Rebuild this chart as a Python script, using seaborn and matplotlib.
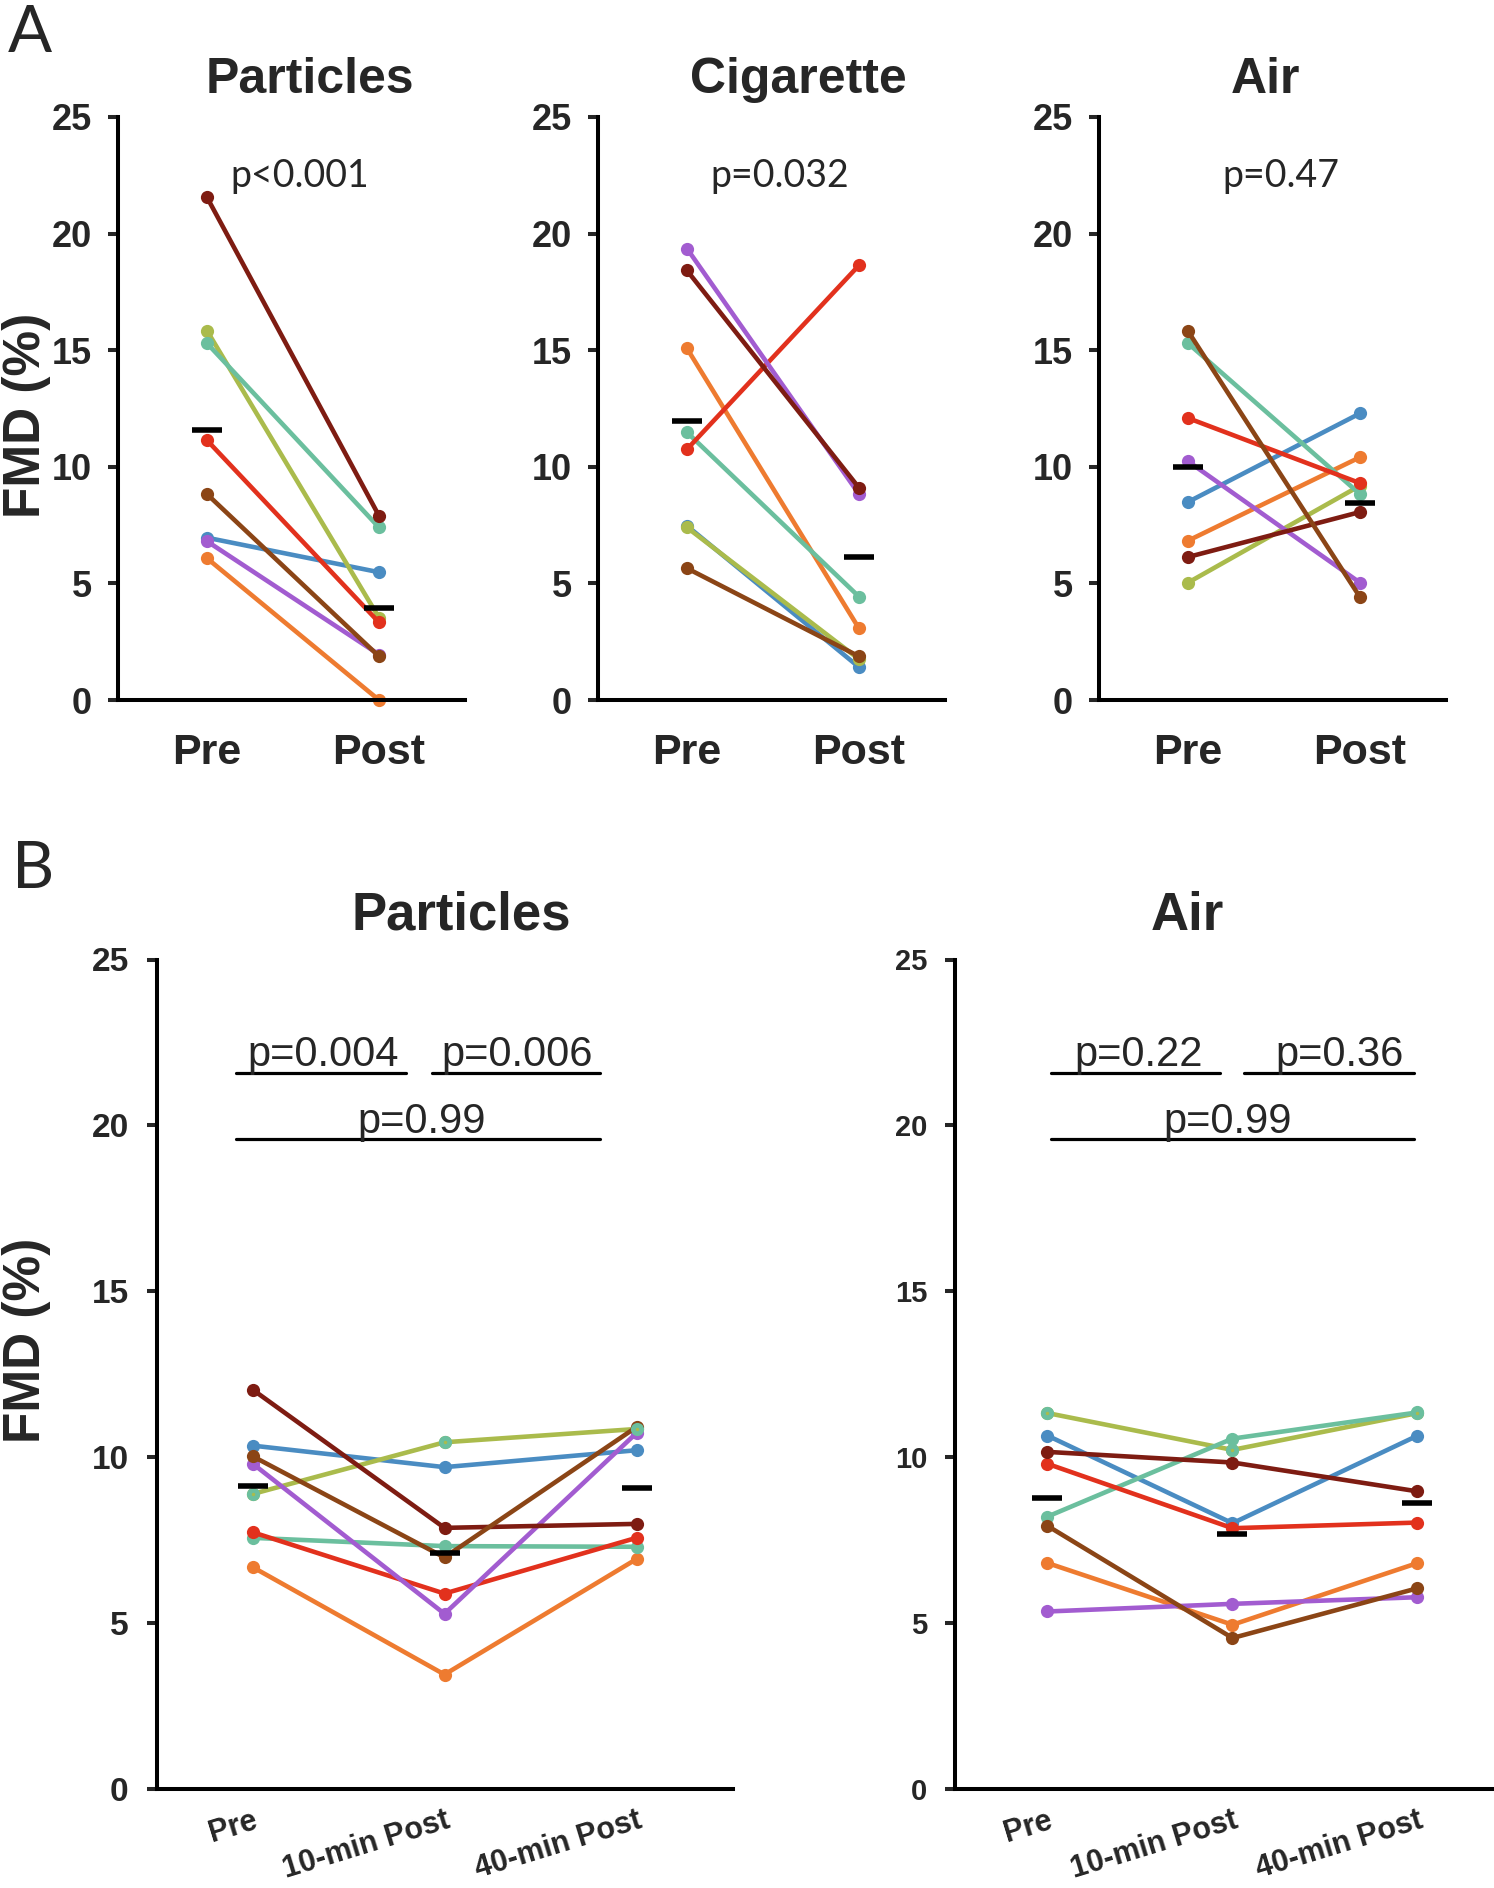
import numpy as np
import pandas as pd
import matplotlib
matplotlib.use("Agg")
import matplotlib.pyplot as plt
import seaborn as sns

# eight subjects, in drawing order, with their colours
subjects = ["s1", "s2", "s3", "s4", "s5", "s6", "s7", "s8"]
colors = ["#4A8CC2", "#EE7B30", "#AABB4C", "#6BBF9E", "#E2311D", "#A25CD0", "#7E1C12", "#8B4516"]
palette = dict(zip(subjects, colors))

# panel A: FMD (%) before / after exposure
a_times = ["Pre", "Post"]
a_titles = ["Particles", "Cigarette", "Air"]
a_pvals = ["p<0.001", "p=0.032", "p=0.47"]
part_pre = [6.96, 6.08, 15.84, 15.30, 11.14, 6.81, 21.56, 8.83]
part_post = [5.48, 0.00, 3.53, 7.40, 3.33, 1.95, 7.90, 1.87]
cig_pre = [7.47, 15.08, 7.40, 11.48, 10.75, 19.36, 18.42, 5.65]
cig_post = [1.41, 3.07, 1.75, 4.43, 18.64, 8.83, 9.10, 1.87]
air_pre = [8.49, 6.83, 5.03, 15.30, 12.09, 10.24, 6.13, 15.82]
air_post = [12.29, 10.41, 9.19, 8.83, 9.30, 5.03, 8.06, 4.41]

# panel B: FMD (%) pre, 10 and 40 min after exposure
b_times = ["Pre", "10-min Post", "40-min Post"]
b_titles = ["Particles", "Air"]
bpart_pre = [10.35, 6.69, 8.89, 7.57, 7.74, 9.81, 12.04, 10.03]
bpart_10 = [9.70, 3.45, 10.45, 7.32, 5.89, 5.28, 7.87, 6.98]
bpart_40 = [10.21, 6.93, 10.85, 7.30, 7.57, 10.73, 7.99, 10.91]
bair_pre = [10.65, 6.81, 11.33, 8.21, 9.80, 5.35, 10.16, 7.93]
bair_10 = [8.01, 4.95, 10.22, 10.56, 7.86, 5.58, 9.84, 4.55]
bair_40 = [10.65, 6.81, 11.33, 11.35, 8.03, 5.78, 8.97, 6.05]
b_pvals = [["p=0.004", "p=0.006", "p=0.99"], ["p=0.22", "p=0.36", "p=0.99"]]

yticks = [0, 5, 10, 15, 20, 25]

BOLD = ["Liberation Sans", "DejaVu Sans"]
CAL = ["Lato", "DejaVu Sans"]


def to_long(columns):
    rows = []
    for t, vals in enumerate(columns):
        for s, v in zip(subjects, vals):
            rows.append({"subject": s, "time": t, "fmd": v})
    return pd.DataFrame(rows)


def draw(ax, columns, xlim):
    df = to_long(columns)
    sns.lineplot(data=df, x="time", y="fmd", hue="subject", hue_order=subjects,
                 palette=palette, marker="o", markersize=9.5, markeredgewidth=0,
                 linewidth=3.3, estimator=None, sort=False, legend=False,
                 clip_on=False, ax=ax)
    for ln in ax.lines:
        ln.set_linewidth(3.3)
        ln.set_markersize(9.5)
    means = df.groupby("time", as_index=False)["fmd"].mean()
    sns.scatterplot(data=means, x="time", y="fmd", marker="_", s=480, color="black",
                    linewidth=4.0, zorder=6, clip_on=False, legend=False, ax=ax)
    ax.set_xlim(*xlim)
    ax.set_ylim(0, 25)
    ax.set_xlabel("")
    ax.set_ylabel("")
    sns.despine(ax=ax)
    for sp in ["left", "bottom"]:
        ax.spines[sp].set_linewidth(2.9)
        ax.spines[sp].set_color("black")
    return df


sns.set_style("white")
plt.rcParams["font.family"] = BOLD

fig = plt.figure(figsize=(14.94, 18.88), dpi=100)
W, H = 1494, 1888

# ---- panel A ----
a_data = [(part_pre, part_post), (cig_pre, cig_post), (air_pre, air_post)]
a_left = [118, 598, 1099]
a_title_x = [0.60, 0.645, 0.45]
for i, cols in enumerate(a_data):
    ax = fig.add_axes([a_left[i] / W, 1 - 700 / H, 347 / W, 583 / H])
    draw(ax, cols, (-0.517, 1.5))
    ax.set_yticks(yticks)
    ax.set_yticklabels([str(v) for v in yticks], fontsize=26, fontweight="bold", family=BOLD)
    ax.set_xticks(range(len(a_times)))
    ax.set_xticklabels(a_times, fontsize=31, fontweight="bold", family=BOLD)
    ax.tick_params(axis="y", direction="out", length=7, width=2.9, pad=12, left=True)
    ax.tick_params(axis="x", length=0, pad=24)
    ax.text(a_title_x[i], 26.03, a_titles[i], ha="center", va="baseline",
            fontsize=36, fontweight="bold", family=BOLD)
    ax.text(0.54, 22.0, a_pvals[i], ha="center", va="baseline", fontsize=27, family=CAL)

fig.text(8 / W, 1 - 52 / H, "A", fontsize=47, family=CAL, va="baseline")
fig.text(27 / W, 1 - 415 / H, "FMD (%)", rotation=90, ha="center", va="center",
         fontsize=37, fontweight="bold", family=BOLD)

# ---- panel B ----
b_data = [(bpart_pre, bpart_10, bpart_40), (bair_pre, bair_10, bair_40)]
b_rects = [(156.5, 576), (955, 555)]
b_title_x = [1.086, 0.754]
b_tick_size = [24, 21]
b_bars = [[(-0.085, 0.80, 21.58), (0.935, 1.81, 21.58), (-0.085, 1.81, 19.59)],
          [(0.02, 0.93, 21.58), (1.06, 1.98, 21.58), (0.02, 1.98, 19.59)]]
b_text_pos = [[(0.366, 21.80), (1.38, 21.80), (0.88, 19.77)],
              [(0.49, 21.80), (1.58, 21.80), (0.975, 19.77)]]
for i, cols in enumerate(b_data):
    left, width = b_rects[i]
    ax = fig.add_axes([left / W, 1 - 1789 / H, width / W, 829.5 / H])
    df = draw(ax, cols, (-0.5, 2.5))
    # markers of the third subject are drawn in the teal of subject four
    olive = df[df["subject"] == "s3"]
    sns.scatterplot(data=olive, x="time", y="fmd", color=colors[3], s=90, linewidth=0,
                    zorder=4, legend=False, ax=ax)
    sns.scatterplot(data=olive, x="time", y="fmd", color=colors[2], s=6, linewidth=0,
                    zorder=4, legend=False, ax=ax)
    ax.set_xlabel("")
    ax.set_ylabel("")
    ax.set_yticks(yticks)
    ax.set_yticklabels([str(v) for v in yticks], fontsize=b_tick_size[i], fontweight="bold", family=BOLD)
    ax.set_xticks(range(len(b_times)))
    ax.set_xticklabels(b_times, fontsize=22, fontweight="bold", family=BOLD,
                       rotation=17, ha="right", rotation_mode="anchor")
    ax.tick_params(axis="y", direction="out", length=7, width=2.9, pad=13, left=True)
    ax.tick_params(axis="x", length=0, pad=12)
    ax.text(b_title_x[i], 25.9, b_titles[i], ha="center", va="baseline",
            fontsize=38, fontweight="bold", family=BOLD)
    for (x0, x1, y), (tx, ty), lab in zip(b_bars[i], b_text_pos[i], b_pvals[i]):
        ax.plot([x0, x1], [y, y], color="black", linewidth=2.3, clip_on=False)
        ax.text(tx, ty, lab, ha="center", va="baseline", fontsize=30, family=BOLD)

fig.text(12 / W, 1 - 888 / H, "B", fontsize=47, family=CAL, va="baseline")
fig.text(27 / W, 1 - 1340 / H, "FMD (%)", rotation=90, ha="center", va="center",
         fontsize=37, fontweight="bold", family=BOLD)

fig.savefig("out.png", dpi=100)
